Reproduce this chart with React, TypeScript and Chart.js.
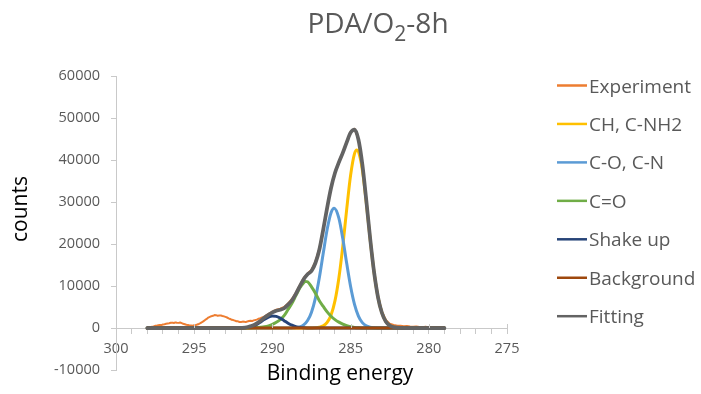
import { useEffect, useRef } from 'react';
import { Chart, registerables } from 'chart.js';

Chart.register(...registerables);

// ---------- data ----------
const seriesNames = ['Experiment', 'CH, C-NH2', 'C-O, C-N', 'C=O', 'Shake up', 'Background', 'Fitting'];

const expEnergy = [
  298.0, 297.9, 297.8, 297.7, 297.6, 297.5, 297.4, 297.3, 297.2, 297.1,
  297.0, 296.9, 296.8, 296.7, 296.6, 296.5, 296.4, 296.3, 296.2, 296.1,
  296.0, 295.9, 295.8, 295.7, 295.6, 295.5, 295.4, 295.3, 295.2, 295.1,
  295.0, 294.9, 294.8, 294.7, 294.6, 294.5, 294.4, 294.3, 294.2, 294.1,
  294.0, 293.9, 293.8, 293.7, 293.6, 293.5, 293.4, 293.3, 293.2, 293.1,
  293.0, 292.9, 292.8, 292.7, 292.6, 292.5, 292.4, 292.3, 292.2, 292.1,
  292.0, 291.9, 291.8, 291.7, 291.6, 291.5, 291.4, 291.3, 291.2, 291.1,
  291.0, 290.9, 290.8, 290.7, 290.6,
  290.5, 290.25, 290.0, 289.75, 289.5, 289.25, 289.0, 288.75, 288.5, 288.25, 288.0, 287.75, 287.5, 287.25,
  287.0, 286.75, 286.5, 286.25, 286.0, 285.75, 285.5, 285.25, 285.0, 284.75, 284.5, 284.25, 284.0, 283.75,
  283.5, 283.25, 283.0, 282.75, 282.5, 282.25, 282.0,
  281.8, 281.6, 281.4, 281.2, 281.0, 280.8, 280.6, 280.4, 280.2, 280.0, 279.8, 279.6, 279.4, 279.2, 279.0,
];
const expCounts = [
  60, 110, 150, 300, 380, 520, 560, 640, 720, 690,
  830, 900, 1000, 1080, 1150, 1250, 1280, 1200, 1330, 1260,
  1220, 1300, 1160, 1000, 880, 760, 700, 580, 620, 560,
  680, 720, 820, 960, 1150, 1380, 1650, 1920, 2150, 2480,
  2650, 2820, 2900, 3080, 3050, 2900, 2950, 3000, 2850, 2780,
  2650, 2500, 2300, 2150, 1950, 1880, 1750, 1600, 1580, 1420,
  1450, 1520, 1480, 1400, 1560, 1650, 1700, 1640, 1820, 1900,
  2000, 2180, 2250, 2450, 2600,
  2750, 3350, 3900, 4350, 4600, 5000, 5850, 6900, 8400, 10200, 11900, 13000, 13900, 15800,
  18900, 23600, 28800, 33500, 37000, 39600, 41800, 44300, 46700, 47400, 45000, 39100, 30700, 21600,
  13600, 7700, 3950, 1900, 1000, 700, 550,
  520, 430, 480, 350, 300, 380, 250, 200, 280, 150, 200, 120, 180, 100, 80,
];

const chEnergy = [298.0, 287.75, 287.5, 287.25, 287.0, 286.75, 286.5, 286.25, 286.0, 285.75, 285.5, 285.25, 285.0, 284.75, 284.6, 284.5, 284.25, 284.0, 283.75, 283.5, 283.25, 283.0, 282.75, 282.5, 282.25, 282.0, 281.75, 281.5, 279.0];
const chCounts = [0, 0, 15, 50, 170, 500, 1310, 3100, 6450, 11900, 19450, 28250, 36350, 41500, 42400, 42000, 37700, 30000, 21150, 13250, 7350, 3620, 1570, 610, 210, 64, 17, 0, 0];

const coEnergy = [298.0, 289.0, 288.75, 288.5, 288.25, 288.0, 287.75, 287.5, 287.25, 287.0, 286.75, 286.5, 286.25, 286.05, 285.75, 285.5, 285.25, 285.0, 284.75, 284.5, 284.25, 284.0, 283.75, 283.5, 283.25, 283.0, 279.0];
const coCounts = [0, 0, 26, 90, 270, 740, 1770, 3770, 7130, 11970, 17790, 23450, 27430, 28500, 26140, 21320, 15400, 9870, 5610, 2830, 1265, 500, 175, 55, 15, 0, 0];

const cdoEnergy = [298.0, 291.5, 291.0, 290.75, 290.5, 290.25, 290.0, 289.75, 289.5, 289.25, 289.0, 288.75, 288.5, 288.25, 288.0, 287.9, 287.75, 287.5, 287.25, 287.0, 286.75, 286.5, 286.25, 286.0, 285.75, 285.5, 285.25, 285.0, 284.75, 284.5, 284.25, 279.0];
const cdoCounts = [0, 20, 100, 180, 300, 520, 850, 1350, 2000, 2950, 4400, 5900, 7700, 9500, 10800, 11100, 11000, 9800, 8300, 6500, 5150, 3850, 2800, 2000, 1400, 920, 550, 300, 140, 50, 0, 0];

const shakeEnergy = [298.0, 292.25, 292.0, 291.75, 291.5, 291.25, 291.0, 290.75, 290.5, 290.25, 290.0, 289.75, 289.5, 289.25, 289.0, 288.75, 288.5, 288.25, 288.0, 287.75, 287.5, 279.0];
const shakeCounts = [0, 0, 20, 60, 170, 400, 840, 1450, 2090, 2620, 2860, 2760, 2340, 1750, 1150, 660, 340, 150, 60, 20, 0, 0];

const bgEnergy = [298.0, 279.0];
const bgCounts = [0, 0];

const fitEnergy = [298.0, 292.5, 292.25, 292.0, 291.75, 291.5, 291.25, 291.0, 290.75, 290.5, 290.25, 290.0, 289.75, 289.5, 289.25, 289.0, 288.75, 288.5, 288.25, 288.0, 287.75, 287.5, 287.25, 287.0, 286.75, 286.5, 286.25, 286.0, 285.75, 285.5, 285.25, 285.0, 284.75, 284.5, 284.25, 284.0, 283.75, 283.5, 283.25, 283.0, 282.75, 282.5, 282.25, 282.0, 281.75, 281.5, 279.0];
const fitCounts = [0, 0, 15, 40, 90, 300, 600, 1100, 1750, 2500, 3140, 3710, 4110, 4340, 4700, 5550, 6590, 8130, 9920, 11600, 12790, 13585, 15480, 18640, 23440, 28610, 33330, 36900, 39440, 41690, 44200, 46520, 47250, 44880, 38965, 30500, 21325, 13305, 7365, 3620, 1570, 610, 210, 64, 17, 0, 0];

const xMajorTicks = [300, 295, 290, 285, 280, 275];
const titleMain = 'PDA/O';
const titleSub = '2';
const titleTail = '-8h';
const xTitle = 'Binding energy';
const yTitle = 'counts';

// ---------- styles ----------
const seriesColors = ['#ED7D31', '#FFC000', '#5B9BD5', '#70AD47', '#264478', '#9E480E', '#636363'];
const seriesWidths = [2, 3, 3, 3, 3, 3, 3.75];
const drawOrder = [6, 5, 4, 3, 2, 1, 0];
const FONT = '"Open Sans", "Noto Sans", sans-serif';
const AXIS = '#C9C9C9';
const TEXT = '#595959';

const pts = (xs: number[], ys: number[]) => xs.map((x, i) => ({ x, y: ys[i] }));

const overlay = {
  id: 'overlay',
  afterDraw(chart: any) {
    const { ctx, scales } = chart;
    const xs = scales.x;
    const ys = scales.y;
    ctx.save();
    // major ticks cross the axis
    const y0 = Math.round(ys.getPixelForValue(0));
    ctx.strokeStyle = AXIS;
    ctx.lineWidth = 1;
    ctx.beginPath();
    for (const v of xMajorTicks) {
      const px = Math.round(xs.getPixelForValue(v)) + 0.5;
      ctx.moveTo(px, y0 - 4);
      ctx.lineTo(px, y0);
    }
    ctx.stroke();

    // title with subscript
    ctx.fillStyle = TEXT;
    ctx.textBaseline = 'alphabetic';
    ctx.textAlign = 'left';
    const mainFont = `28px ${FONT}`;
    const subFont = `21px ${FONT}`;
    ctx.font = mainFont;
    const w1 = ctx.measureText(titleMain).width;
    const w3 = ctx.measureText(titleTail).width;
    ctx.font = subFont;
    const w2 = ctx.measureText(titleSub).width;
    let tx = 378 - (w1 + w2 + w3) / 2;
    const tb = 33;
    ctx.font = mainFont;
    ctx.fillText(titleMain, tx, tb);
    tx += w1;
    ctx.font = subFont;
    ctx.fillText(titleSub, tx, tb + 8);
    tx += w2;
    ctx.font = mainFont;
    ctx.fillText(titleTail, tx, tb);

    // axis titles
    ctx.fillStyle = '#000000';
    ctx.font = `21px ${FONT}`;
    ctx.textAlign = 'center';
    ctx.fillText(xTitle, 340, 380);
    ctx.save();
    ctx.translate(27, 209);
    ctx.rotate(-Math.PI / 2);
    ctx.fillText(yTitle, 0, 0);
    ctx.restore();

    // legend
    ctx.font = `19px ${FONT}`;
    ctx.textAlign = 'left';
    ctx.fillStyle = TEXT;
    chart.data.datasets.forEach((ds: any, i: number) => {
      const ly = 85.5 + i * 38.45;
      ctx.strokeStyle = ds.borderColor;
      ctx.lineWidth = 2.5;
      ctx.beginPath();
      ctx.moveTo(557, ly);
      ctx.lineTo(587, ly);
      ctx.stroke();
      ctx.fillText(ds.label, 589, ly + 7);
    });
    ctx.restore();
  },
};

export default function App() {
  const ref = useRef<HTMLCanvasElement>(null);
  useEffect(() => {
    if (!ref.current) return;
    const all = [
      [expEnergy, expCounts],
      [chEnergy, chCounts],
      [coEnergy, coCounts],
      [cdoEnergy, cdoCounts],
      [shakeEnergy, shakeCounts],
      [bgEnergy, bgCounts],
      [fitEnergy, fitCounts],
    ];
    const datasets = all.map(([xs, ys], i) => ({
      label: seriesNames[i],
      data: pts(xs, ys),
      borderColor: seriesColors[i],
      backgroundColor: seriesColors[i],
      borderWidth: seriesWidths[i],
      pointRadius: 0,
      fill: false,
      order: drawOrder[i],
      tension: i === 0 ? 0 : 0.4,
      cubicInterpolationMode: i === 0 ? 'default' : 'monotone',
      borderJoinStyle: 'round',
      borderCapStyle: 'round',
    }));
    const chart = new Chart(ref.current, {
      type: 'line',
      data: { datasets } as any,
      options: {
        responsive: false,
        animation: false,
        events: [],
        layout: { padding: { left: 16, top: 76, right: 194, bottom: 24 } },
        plugins: { legend: { display: false }, title: { display: false }, tooltip: { enabled: false } },
        font: { family: FONT },
        scales: {
          x: {
            type: 'linear',
            min: 275,
            max: 300,
            reverse: true,
            position: { y: 0 } as any,
            border: { display: true, color: AXIS, width: 1 },
            grid: { display: true, drawOnChartArea: false, drawTicks: true, tickLength: 5, color: AXIS },
            ticks: {
              stepSize: 1,
              autoSkip: false,
              maxRotation: 0,
              padding: 7,
              color: TEXT,
              font: { family: FONT, size: 14.5 },
              callback: (v: any) => (Number(v) % 5 === 0 ? String(v) : ''),
            },
          },
          y: {
            type: 'linear',
            min: -10000,
            max: 60000,
            position: 'left',
            afterFit: (s: any) => { s.width = 100; },
            border: { display: true, color: AXIS, width: 1 },
            grid: { display: true, drawOnChartArea: false, drawTicks: true, tickLength: 5, color: AXIS },
            ticks: {
              stepSize: 10000,
              padding: 11,
              color: TEXT,
              font: { family: FONT, size: 14.5 },
              callback: (v: any) => String(v),
            },
          },
        },
      } as any,
      plugins: [overlay],
    });
    return () => chart.destroy();
  }, []);
  return (
    <div style={{ position: 'absolute', left: 0, top: 0, width: 701, height: 394, background: '#fff' }}>
      <canvas ref={ref} width={701} height={394} style={{ display: 'block' }} />
    </div>
  );
}
